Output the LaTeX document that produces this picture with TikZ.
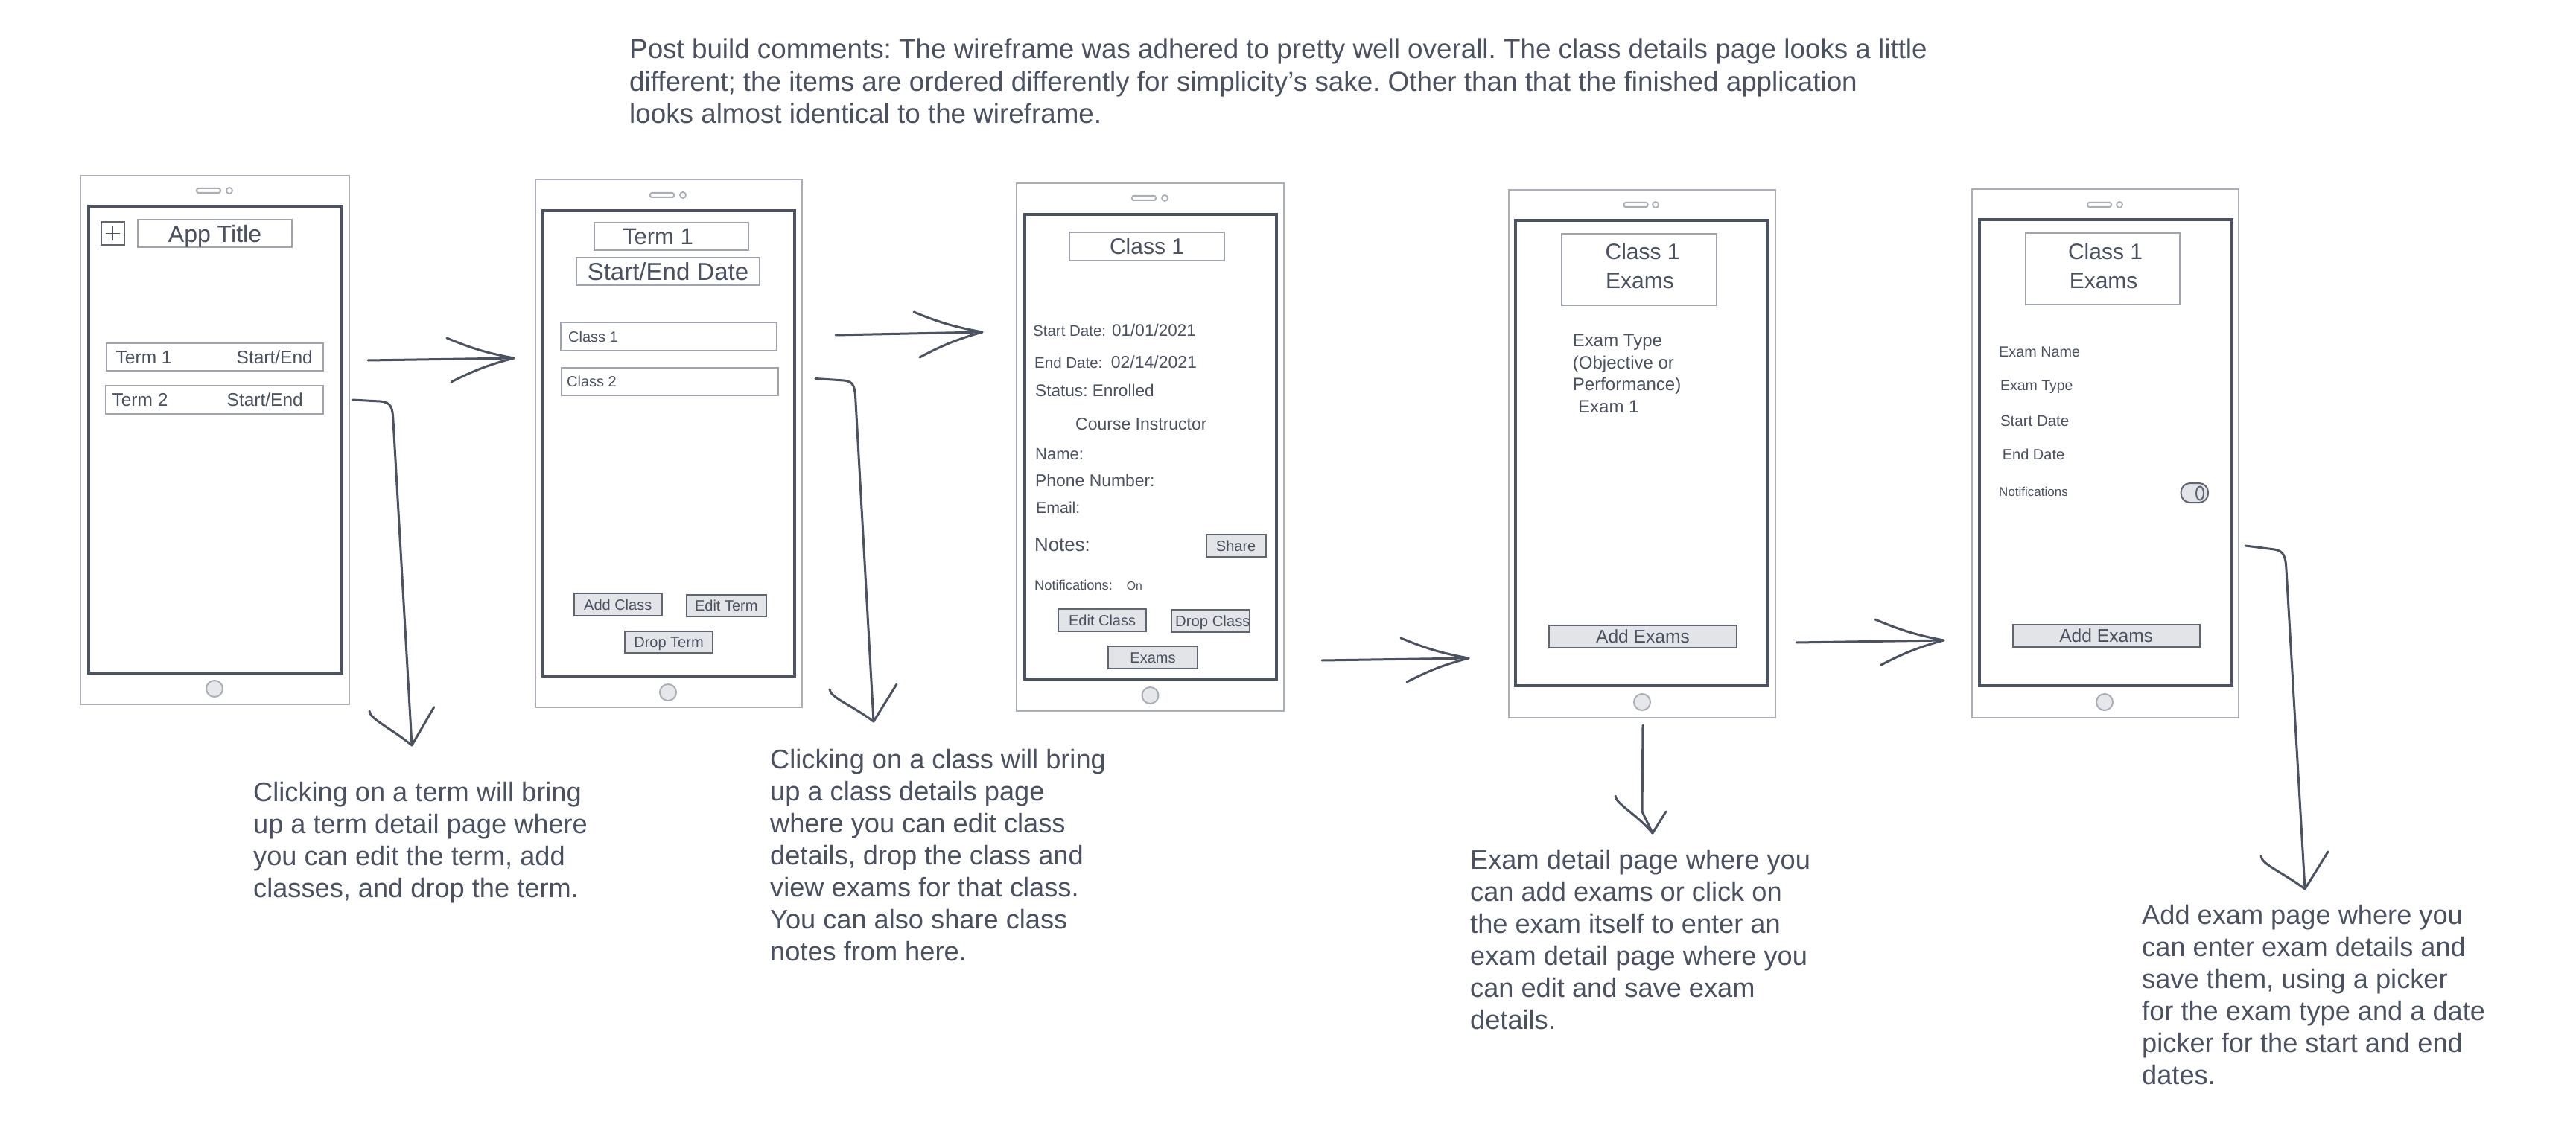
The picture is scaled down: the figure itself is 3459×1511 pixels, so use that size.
\documentclass[tikz,border=0pt]{standalone}
\usepackage{fontspec}
\setmainfont{Liberation Sans}
\usetikzlibrary{shapes.geometric}
\definecolor{txtc}{RGB}{74,81,97}
\definecolor{darkc}{RGB}{75,82,98}
\definecolor{outc}{RGB}{169,174,183}
\definecolor{boxc}{RGB}{158,163,173}
\definecolor{btnc}{RGB}{95,101,114}
\definecolor{btnf}{RGB}{227,228,232}
\definecolor{homef}{RGB}{230,231,234}
\newcommand\fs[1]{\fontsize{#1}{#1}\selectfont}
\frenchspacing
\begin{document}
\begin{tikzpicture}[x=1pt,y=-1pt,
  phone/.style={draw=outc,line width=2.5pt,inner sep=0pt},
  screen/.style={draw=darkc,line width=4.5pt,inner sep=0pt},
  lbox/.style={draw=boxc,line width=2pt,inner sep=0pt,text=txtc},
  btn/.style={draw=btnc,fill=btnf,line width=2pt,inner sep=0pt,text=txtc,font=\fs{20},text height=14.3pt,text depth=0pt},
  ptxt/.style={text=txtc,inner sep=0pt},
  speaker/.style={draw=outc,line width=2pt,rounded corners=2.5pt,minimum width=32pt,minimum height=6pt,inner sep=0pt},
  cam/.style={draw=outc,line width=1.8pt,circle,minimum size=8pt,inner sep=0pt},
  home/.style={draw=outc,fill=homef,line width=2pt,circle,minimum size=22pt,inner sep=0pt},
  desc/.style={text=txtc,inner sep=0pt,anchor=north west,align=left,font=\fontsize{36.2}{43}\selectfont},
  arr/.style={draw=darkc,line width=3pt,line cap=round,line join=round},
  plusl/.style={draw=darkc,line width=1.5pt}
]
\useasboundingbox (0,0) rectangle (3459,1511);
\fill[white] (0,0) rectangle (3459,1511);

% ---------- top comment ----------
\node[desc,font=\fontsize{36.8}{43.5}\selectfont] (comment) at (845,52)
 {Post build comments: The wireframe was adhered to pretty well overall. The class details page looks a little\\
  different; the items are ordered differently for simplicity's sake. Other than that the finished application\\
  looks almost identical to the wireframe.};

% ---------- phones ----------
\node[phone,minimum width=361pt,minimum height=710pt] (p1) at (288.5,591) {};
\node[screen,minimum width=340pt,minimum height=627pt] (s1) at (289,590.5) {};
\node[speaker] (sp1) at (280,256) {}; \node[cam] (cm1) at (308,256) {};
\node[home] (h1) at (288,925) {};

\node[phone,minimum width=358pt,minimum height=709pt] (p2) at (898,595.5) {};
\node[screen,minimum width=338pt,minimum height=625pt] (s2) at (898,595.5) {};
\node[speaker] (sp2) at (889,262) {}; \node[cam] (cm2) at (917,262) {};
\node[home] (h2) at (897,930) {};

\node[phone,minimum width=359pt,minimum height=709pt] (p3) at (1544.5,600.5) {};
\node[screen,minimum width=338pt,minimum height=624pt] (s3) at (1545,600) {};
\node[speaker] (sp3) at (1536,266) {}; \node[cam] (cm3) at (1564,266) {};
\node[home] (h3) at (1544.5,934) {};

\node[phone,minimum width=358pt,minimum height=709pt] (p4) at (2205,609.5) {};
\node[screen,minimum width=339pt,minimum height=625pt] (s4) at (2204.5,608.5) {};
\node[speaker] (sp4) at (2196.5,275) {}; \node[cam] (cm4) at (2223,275) {};
\node[home] (h4) at (2205,943) {};

\node[phone,minimum width=358pt,minimum height=710pt] (p5) at (2827,609) {};
\node[screen,minimum width=339pt,minimum height=626pt] (s5) at (2827.5,608) {};
\node[speaker] (sp5) at (2819,275) {}; \node[cam] (cm5) at (2846,275) {};
\node[home] (h5) at (2826,943) {};

% ---------- phone 1: terms list ----------
\node[draw=btnc,line width=1.8pt,inner sep=0pt,minimum width=31pt,minimum height=31pt] (plus) at (151.5,313.5) {};
\draw[plusl] ([xshift=7pt]plus.west) -- ([xshift=-7pt]plus.east);
\draw[plusl] ([yshift=-7pt]plus.north) -- ([yshift=7pt]plus.south);
\node[lbox,minimum width=207pt,minimum height=36.5pt,font=\fs{32},text height=22.9pt,text depth=0pt] (apptitle) at (288.5,313.75) {App Title};
\node[lbox,minimum width=291pt,minimum height=37pt] (term1row) at (288.5,479.5) {};
\node[ptxt,font=\fs{24.5},anchor=base west] (term1t) at (155.5,488.3) {Term 1};
\node[ptxt,font=\fs{24.5},anchor=base east] (term1d) at (420,488.3) {Start/End};
\node[lbox,minimum width=292pt,minimum height=38pt] (term2row) at (288,537) {};
\node[ptxt,font=\fs{24.5},anchor=base west] (term2t) at (150.4,545.8) {Term 2};
\node[ptxt,font=\fs{24.5},anchor=base east] (term2d) at (407,545.8) {Start/End};

% ---------- phone 2: term detail ----------
\node[lbox,minimum width=207.5pt,minimum height=37pt] (termhdr) at (901.25,317.5) {};
\node[ptxt,font=\fs{31},text height=22.2pt,text depth=0pt] (termhdrt) at (883.5,317.5) {Term 1};
\node[lbox,minimum width=246pt,minimum height=37.5pt,font=\fs{33},text height=23.6pt,text depth=0pt] (sedate) at (897,364.75) {Start/End Date};
\node[lbox,minimum width=290pt,minimum height=38pt] (class1row) at (898,452) {};
\node[ptxt,font=\fs{20},anchor=base west] (class1t) at (763,459.2) {Class 1};
\node[lbox,minimum width=291pt,minimum height=37.5pt] (class2row) at (899.5,512.25) {};
\node[ptxt,font=\fs{20},anchor=base west] (class2t) at (761,519.4) {Class 2};
\node[btn,minimum width=117.5pt,minimum height=30pt] (addclass) at (829.75,812) {Add Class};
\node[btn,minimum width=106.6pt,minimum height=29.5pt] (editterm) at (975.3,813.25) {Edit Term};
\node[btn,minimum width=118.8pt,minimum height=28.6pt] (dropterm) at (898,862.3) {Drop Term};

% ---------- phone 3: class detail ----------
\node[lbox,minimum width=208pt,minimum height=37.6pt,font=\fs{30},text height=21.5pt,text depth=0pt] (classhdr) at (1540,331.2) {Class 1};
\node[ptxt,font=\fs{20.5},anchor=base west] (sdl) at (1387,451) {Start Date:};
\node[ptxt,font=\fs{22.5},anchor=base west] (sdv) at (1493,451.5) {01/01/2021};
\node[ptxt,font=\fs{20.5},anchor=base west] (edl) at (1389,494.5) {End Date:};
\node[ptxt,font=\fs{23},anchor=base west] (edv) at (1491.6,494.5) {02/14/2021};
\node[ptxt,font=\fs{22.6},anchor=base west] (status) at (1390,532.5) {Status: Enrolled};
\node[ptxt,font=\fs{23},anchor=base west] (instr) at (1444,577.3) {Course Instructor};
\node[ptxt,font=\fs{22},anchor=base west] (iname) at (1390,617.4) {Name:};
\node[ptxt,font=\fs{22.9},anchor=base west] (iphone) at (1390,653.2) {Phone Number:};
\node[ptxt,font=\fs{21.3},anchor=base west] (iemail) at (1391,689.2) {Email:};
\node[ptxt,font=\fs{25.8},anchor=base west] (notes) at (1389,740.2) {Notes:};
\node[btn,minimum width=79.7pt,minimum height=30pt] (share) at (1659.65,733) {Share};
\node[ptxt,font=\fs{18.3},anchor=base west] (notif) at (1389,792.5) {Notifications:};
\node[ptxt,font=\fs{15.8},anchor=base west] (notifon) at (1512.6,792.6) {On};
\node[btn,minimum width=117.4pt,minimum height=30pt] (editclass) at (1480.1,833) {Edit Class};
\node[btn,minimum width=105.8pt,minimum height=29.9pt] (dropclass) at (1625.5,834.35) {};
\node[ptxt,font=\fs{20.3},anchor=base west] (dropclasst) at (1578,841.6) {Drop Class};
\node[btn,minimum width=119.3pt,minimum height=30pt] (exams) at (1548,883) {Exams};

% ---------- phone 4: exams list ----------
\node[lbox,minimum width=208.4pt,minimum height=96.4pt] (exhdr) at (2201,362.2) {};
\node[ptxt,font=\fs{30},text height=21.5pt,text depth=0pt] (exhdra) at (2205.6,337.8) {Class 1};
\node[ptxt,font=\fs{30},text height=21.5pt,text depth=0pt] (exhdrb) at (2202,376.6) {Exams};
\node[ptxt,font=\fs{24},anchor=base west] (extype1) at (2111.7,465.6) {Exam Type};
\node[ptxt,font=\fs{24},anchor=base west] (extype2) at (2111.7,495.2) {(Objective or};
\node[ptxt,font=\fs{24},anchor=base west] (extype3) at (2111.7,524.8) {Performance)};
\node[ptxt,font=\fs{24},anchor=base west] (extype4) at (2119,554.4) {Exam 1};
\node[btn,font=\fs{24.6},text height=17.6pt,minimum width=252pt,minimum height=29.7pt] (addex1) at (2206,855.15) {Add Exams};

% ---------- phone 5: add exam ----------
\node[lbox,minimum width=206.8pt,minimum height=96.1pt] (exhdr2) at (2823.4,361.45) {};
\node[ptxt,font=\fs{30},text height=21.5pt,text depth=0pt] (exhdr2a) at (2827,338) {Class 1};
\node[ptxt,font=\fs{30},text height=21.5pt,text depth=0pt] (exhdr2b) at (2824.6,377) {Exams};
\node[ptxt,font=\fs{19.8},anchor=base west] (exname) at (2684,479.1) {Exam Name};
\node[ptxt,font=\fs{19.5},anchor=base west] (extype) at (2685.8,524.4) {Exam Type};
\node[ptxt,font=\fs{20.5},anchor=base west] (exstart) at (2685.8,572) {Start Date};
\node[ptxt,font=\fs{20},anchor=base west] (exend) at (2688.6,617.6) {End Date};
\node[ptxt,font=\fs{17},anchor=base west] (exnotif) at (2684,666.1) {Notifications};
\node[draw=btnc,fill=btnf,line width=2pt,rounded corners=12pt,minimum width=36.4pt,minimum height=26pt,inner sep=0pt] (toggle) at (2946.8,662) {};
\node[draw=btnc,line width=2pt,ellipse,minimum width=10pt,minimum height=18pt,inner sep=0pt] (knob) at (2954,662.5) {};
\node[btn,font=\fs{24.6},text height=17.6pt,minimum width=251.3pt,minimum height=29.7pt] (addex2) at (2828.15,854.15) {Add Exams};

% ---------- descriptions ----------
\node[desc] (desc1) at (340,1050)
 {Clicking on a term will bring\\up a term detail page where\\you can edit the term, add\\classes, and drop the term.};
\node[desc] (desc2) at (1034,1006)
 {Clicking on a class will bring\\up a class details page\\where you can edit class\\details, drop the class and\\view exams for that class.\\You can also share class\\notes from here.};
\node[desc] (desc3) at (1974,1141)
 {Exam detail page where you\\can add exams or click on\\the exam itself to enter an\\exam detail page where you\\can edit and save exam\\details.};
\node[desc] (desc4) at (2876,1215)
 {Add exam page where you\\can enter exam details and\\save them, using a picker\\for the exam type and a date\\picker for the start and end\\dates.};

% ---------- horizontal arrows ----------
\coordinate (a1s) at (494,484); \coordinate (a1t) at (690,481);
\coordinate (a1u) at (600,454); \coordinate (a1l) at (606,513);
\draw[arr] (a1s) -- (a1t);
\draw[arr] (a1u) to[bend right=6] (a1t) to[bend right=6] (a1l);

\coordinate (a2s) at (1122,450); \coordinate (a2t) at (1319,446);
\coordinate (a2u) at (1227,419); \coordinate (a2l) at (1235,480);
\draw[arr] (a2s) -- (a2t);
\draw[arr] (a2u) to[bend right=6] (a2t) to[bend right=6] (a2l);

\coordinate (a3s) at (1775,887); \coordinate (a3t) at (1972,884);
\coordinate (a3u) at (1881,857); \coordinate (a3l) at (1889,916);
\draw[arr] (a3s) -- (a3t);
\draw[arr] (a3u) to[bend right=6] (a3t) to[bend right=6] (a3l);

\coordinate (a4s) at (2412,863); \coordinate (a4t) at (2610,860);
\coordinate (a4u) at (2518,832); \coordinate (a4l) at (2526,893);
\draw[arr] (a4s) -- (a4t);
\draw[arr] (a4u) to[bend right=6] (a4t) to[bend right=6] (a4l);

% ---------- downward arrows ----------
\coordinate (c1s) at (473,537); \coordinate (c1t) at (553,1001);
\draw[arr] (c1s) -- (510,539) .. controls (526,540) and (527,548) .. (528,565) -- (c1t);
\draw[arr] (582.8,949.7) -- (c1t);
\draw[arr] (496,955) .. controls (497,966) and (522,976) .. (c1t);

\coordinate (c2s) at (1095,508.5); \coordinate (c2t) at (1173,969);
\draw[arr] (c2s) -- (1133,511) .. controls (1147,512) and (1148,520) .. (1149,540) -- (c2t);
\draw[arr] (1204,919) -- (c2t);
\draw[arr] (1114,926) .. controls (1115,937) and (1142,946) .. (c2t);

\coordinate (c3s) at (2206,974); \coordinate (c3t) at (2219,1119);
\draw[arr] (c3s) -- (2205,1090) -- (c3t);
\draw[arr] (2237,1090) -- (c3t);
\draw[arr] (2169,1069) .. controls (2170,1080) and (2196,1092) .. (c3t);

\coordinate (c4s) at (3015,733); \coordinate (c4t) at (3095,1194);
\draw[arr] (c4s) -- (3054,738) .. controls (3067,740) and (3069,748) .. (3070,765) -- (c4t);
\draw[arr] (3126,1144) -- (c4t);
\draw[arr] (3036,1150) .. controls (3037,1161) and (3064,1171) .. (c4t);
\end{tikzpicture}
\end{document}
